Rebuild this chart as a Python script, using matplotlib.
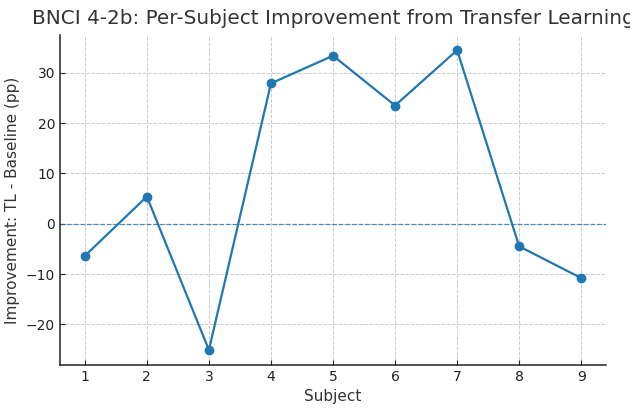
import matplotlib
matplotlib.use("Agg")
import matplotlib.pyplot as plt

# per-subject improvement (TL - baseline), percentage points
subjects = [1, 2, 3, 4, 5, 6, 7, 8, 9]
improvement = [-6.4, 5.4, -25.1, 27.9, 33.4, 23.5, 34.5, -4.5, -10.8]


def main():
    fig = plt.figure(figsize=(6.3, 4.09), dpi=100)
    ax = fig.add_axes([0.0952, 0.1076, 0.8668, 0.8064])

    ax.plot(subjects, improvement, marker='o', color='#1f77b4',
            linewidth=1.6, markersize=6)
    ax.axhline(0, color='#1f77b4', linestyle='--', linewidth=0.9, alpha=0.8)

    ax.set_title('BNCI 4-2b: Per-Subject Improvement from Transfer Learning',
                 fontsize=14.4, color='#333333', pad=8)
    ax.set_xlabel('Subject', fontsize=11, color='#333333')
    ax.set_ylabel('Improvement: TL - Baseline (pp)', fontsize=11, color='#333333')
    ax.set_xticks(subjects)

    ax.grid(True, linestyle='--', color='#cccccc', linewidth=0.7)
    ax.tick_params(direction='in', labelsize=10, colors='#222222')
    ax.spines['top'].set_visible(False)
    ax.spines['right'].set_visible(False)
    for s in ('left', 'bottom'):
        ax.spines[s].set_color('#222222')
        ax.spines[s].set_linewidth(1.1)

    fig.savefig('out.png', dpi=100)


if __name__ == '__main__':
    main()
